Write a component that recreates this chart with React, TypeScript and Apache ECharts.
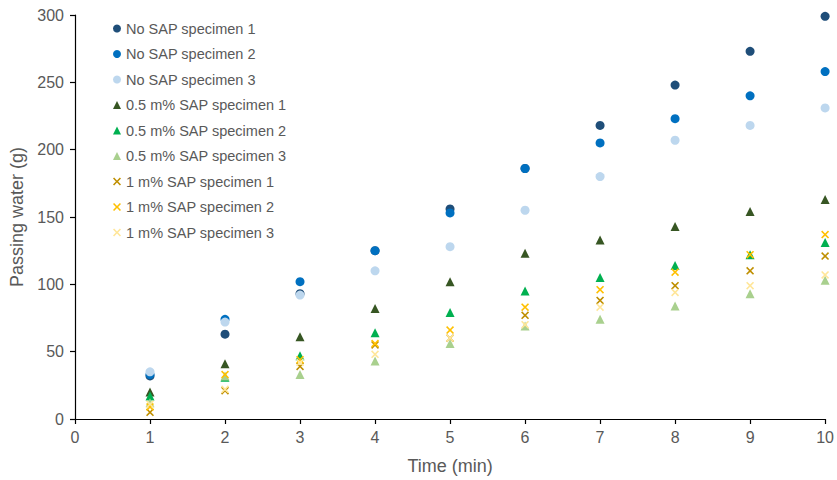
import React, { useEffect, useRef } from "react";
import * as echarts from "echarts";

const times = [1, 2, 3, 4, 5, 6, 7, 8, 9, 10];
const seriesNames = [
  "No SAP specimen 1",
  "No SAP specimen 2",
  "No SAP specimen 3",
  "0.5 m% SAP specimen 1",
  "0.5 m% SAP specimen 2",
  "0.5 m% SAP specimen 3",
  "1 m% SAP specimen 1",
  "1 m% SAP specimen 2",
  "1 m% SAP specimen 3",
];
const noSap1 = [32, 63, 93, 125, 156, 186, 218, 248, 273, 299];
const noSap2 = [33, 74, 102, 125, 153, 186, 205, 223, 240, 258];
const noSap3 = [35, 72, 92, 110, 128, 155, 180, 207, 218, 231];
const sap05_1 = [20, 41, 61, 82, 102, 123, 133, 143, 154, 163];
const sap05_2 = [17, 31, 47, 64, 79, 95, 105, 114, 122, 131];
const sap05_3 = [12, 32, 33, 43, 56, 69, 74, 84, 93, 103];
const sap1_1 = [5, 21, 39, 55, 60, 77, 88, 99, 110, 121];
const sap1_2 = [9, 33, 44, 56, 66, 83, 96, 109, 122, 137];
const sap1_3 = [11, 22, 42, 48, 60, 70, 83, 94, 99, 107];

const colors = ["#1f4e79", "#0070c0", "#bdd7ee", "#375623", "#00b050", "#a9d08e", "#bf8f00", "#ffc000", "#ffe699"];
const crossPath = "path://M0,1.4L1.4,0L5,3.6L8.6,0L10,1.4L6.4,5L10,8.6L8.6,10L5,6.4L1.4,10L0,8.6L3.6,5Z";

export default function App() {
  const ref = useRef<HTMLDivElement>(null);
  useEffect(() => {
    if (!ref.current) return;
    const chart = echarts.init(ref.current, null, { renderer: "svg" });
    const all = [noSap1, noSap2, noSap3, sap05_1, sap05_2, sap05_3, sap1_1, sap1_2, sap1_3];
    const symbols = ["circle", "circle", "circle", "triangle", "triangle", "triangle", crossPath, crossPath, crossPath];
    const sizes = [9, 9, 9, 9, 9, 9, 8, 8, 8];
    chart.setOption({
      animation: false,
      textStyle: { fontFamily: "Liberation Sans, Arial, sans-serif" },
      grid: { left: 75, right: 10, top: 15, bottom: 60 },
      legend: {
        orient: "vertical",
        left: 108,
        top: 16,
        itemWidth: 8,
        itemHeight: 8,
        itemGap: 10.5,
        textStyle: { fontSize: 14.5, color: "#595959", lineHeight: 15 },
        data: seriesNames.map((n, i) => ({ name: n, icon: symbols[i] })),
      },
      xAxis: {
        type: "value",
        min: 0,
        max: 10,
        interval: 1,
        name: "Time (min)",
        nameLocation: "middle",
        nameGap: 38,
        nameTextStyle: { fontSize: 18, color: "#595959" },
        axisLine: { lineStyle: { color: "#000", width: 1.2 } },
        axisTick: { show: true, length: 5, lineStyle: { color: "#000", width: 1.2 } },
        axisLabel: { fontSize: 16, color: "#595959", margin: 10 },
        splitLine: { show: false },
      },
      yAxis: {
        type: "value",
        min: 0,
        max: 300,
        interval: 50,
        name: "Passing water (g)",
        nameLocation: "middle",
        nameGap: 46,
        nameTextStyle: { fontSize: 18, color: "#595959" },
        axisLine: { show: true, lineStyle: { color: "#000", width: 1.2 } },
        axisTick: { show: true, length: 5, lineStyle: { color: "#000", width: 1.2 } },
        axisLabel: { fontSize: 16, color: "#595959", margin: 11 },
        splitLine: { show: false },
      },
      series: all.map((vals, i) => ({
        name: seriesNames[i],
        type: "scatter",
        symbol: symbols[i],
        symbolSize: sizes[i],
        itemStyle: { color: colors[i], opacity: 1 },
        data: vals.map((v, j) => [times[j], v]),
      })),
    });
    return () => chart.dispose();
  }, []);
  return <div ref={ref} style={{ position: "absolute", left: 0, top: 0, width: 837, height: 480 }} />;
}
